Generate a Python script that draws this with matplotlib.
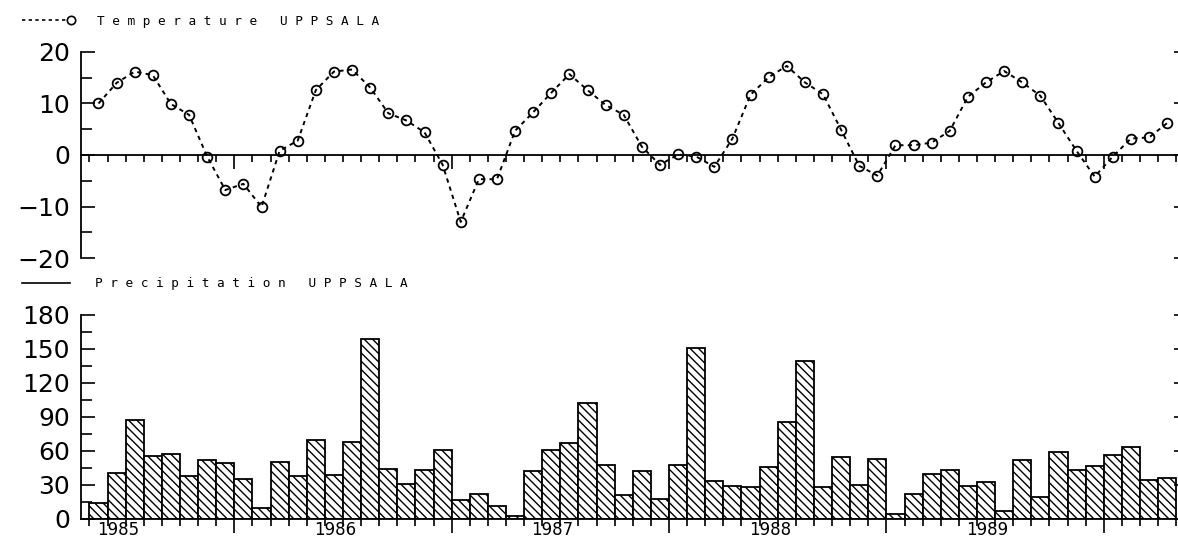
import numpy as np
import matplotlib.pyplot as plt
from matplotlib.lines import Line2D
from matplotlib.ticker import MultipleLocator, FixedLocator, NullLocator

# monthly means, 60 months
temp = [10.0, 14.0, 16.2, 15.5, 9.9, 7.8, -0.3, -6.8, -5.6, -10.1, 0.8, 2.8,
        12.6, 16.2, 16.6, 13.1, 8.1, 6.7, 4.4, -1.9, -13.0, -4.7, -4.7, 4.7,
        8.3, 12.1, 15.7, 12.6, 9.7, 7.8, 1.6, -1.9, 0.1, -0.3, -2.3, 3.2,
        11.7, 15.1, 17.3, 14.1, 11.8, 4.9, -2.1, -4.0, 1.9, 1.9, 2.4, 4.7,
        11.3, 14.1, 16.3, 14.1, 11.5, 6.2, 0.8, -4.2, -0.3, 3.2, 3.4, 6.2]
# monthly precipitation (mm)
prec = [14.1, 40.5, 87.5, 55.2, 57.3, 38.2, 51.7, 49.3, 35.5, 9.7, 50.2, 37.6,
        69.3, 39.1, 67.8, 158.6, 44.1, 30.8, 43.5, 60.5, 16.4, 22.0, 11.7, 2.3,
        42.6, 60.5, 67.0, 102.2, 47.3, 20.9, 42.6, 17.9, 47.9, 151.2, 33.2, 29.4,
        28.2, 45.5, 85.2, 139.8, 28.2, 54.6, 29.7, 52.9, 4.4, 22.0, 39.6, 43.2,
        29.4, 32.9, 7.3, 51.7, 19.4, 59.0, 43.5, 46.4, 56.7, 63.4, 34.7, 36.1]
years = ['1985', '1986', '1987', '1988', '1989']

plt.rcParams['font.family'] = 'DejaVu Sans'
plt.rcParams['hatch.linewidth'] = 1.0

W, H = 1178, 540
fig = plt.figure(figsize=(W / 100, H / 100), dpi=100)
x = np.arange(len(temp))
xlim = (-0.966, 59.6)
left = 81 / W

ax1 = fig.add_axes([left, 1 - 258 / H, 1 - left, 206 / H])
ax2 = fig.add_axes([left, 1 - 519 / H, 1 - left, 204 / H])

bounds = np.arange(len(temp) + 1) - 0.5
long_b = bounds[8::12]
short_b = [b for b in bounds if b not in long_b]

def style(ax, step):
    ax.set_xlim(*xlim)
    for s in ('top', 'right'):
        ax.spines[s].set_visible(False)
    ax.spines['left'].set_linewidth(1.3)
    ax.spines['bottom'].set_linewidth(1.3)
    ax.xaxis.set_major_locator(FixedLocator(long_b))
    ax.xaxis.set_minor_locator(FixedLocator(short_b))
    ax.yaxis.set_major_locator(MultipleLocator(step))
    ax.yaxis.set_minor_locator(MultipleLocator(step / 2))
    ax.tick_params(axis='x', which='major', direction='out', length=10, width=1.2, labelbottom=False)
    ax.tick_params(axis='x', which='minor', direction='out', length=5, width=1.2)
    ax.tick_params(axis='y', which='major', direction='in', length=10, width=1.2,
                   labelsize=18, pad=8)
    ax.tick_params(axis='y', which='minor', direction='in', length=8, width=1.2)
    # small marks on the right edge
    tw = ax.twinx()
    tw.set_ylim(ax.get_ylim())
    for s in tw.spines.values():
        s.set_visible(False)
    tw.yaxis.set_major_locator(MultipleLocator(step))
    tw.yaxis.set_minor_locator(NullLocator())
    tw.tick_params(axis='y', direction='in', length=3, width=1.2, labelright=False)

# temperature
ax1.plot(x, temp, color='black', lw=1.4, ls=(0, (2.2, 2.2)), marker='o', ms=7,
         mfc='none', mec='black', mew=1.3)
ax1.set_ylim(-20, 20)
ax1.spines['bottom'].set_position(('data', 0))
style(ax1, 10)

# precipitation
ax2.bar(x, prec, width=1.0, color='white', edgecolor='black', lw=1.3, hatch='\\\\\\\\')
ax2.set_ylim(0, 180)
style(ax2, 30)
for i, yr in enumerate(years):
    ax2.annotate(yr, xy=(12 * i - 0.1, 0), xycoords=('data', 'axes fraction'),
                 xytext=(0, -11), textcoords='offset pixels', ha='left', va='center',
                 fontsize=12)

# key lines and captions
def px(xp, yp):
    return xp / W, 1 - yp / H

fig.add_artist(Line2D([px(22, 0)[0], px(67, 0)[0]], [px(0, 20)[1]] * 2, color='black',
                      lw=1.2, ls=(0, (2, 2))))
fig.add_artist(Line2D([px(71, 0)[0]], [px(0, 20)[1]], color='black', marker='o', ms=6,
                      mfc='none', mew=1.2))
fig.add_artist(Line2D([px(22, 0)[0], px(70, 0)[0]], [px(0, 283)[1]] * 2, color='black', lw=1.2))
fig.text(*px(97, 21), ' '.join('Temperature') + '   ' + ' '.join('UPPSALA'),
         family='DejaVu Sans Mono', fontsize=9.2, va='center', ha='left')
fig.text(*px(95, 283), ' '.join('Precipitation') + '   ' + ' '.join('UPPSALA'),
         family='DejaVu Sans Mono', fontsize=9.2, va='center', ha='left')

fig.savefig('out.png', dpi=100)
